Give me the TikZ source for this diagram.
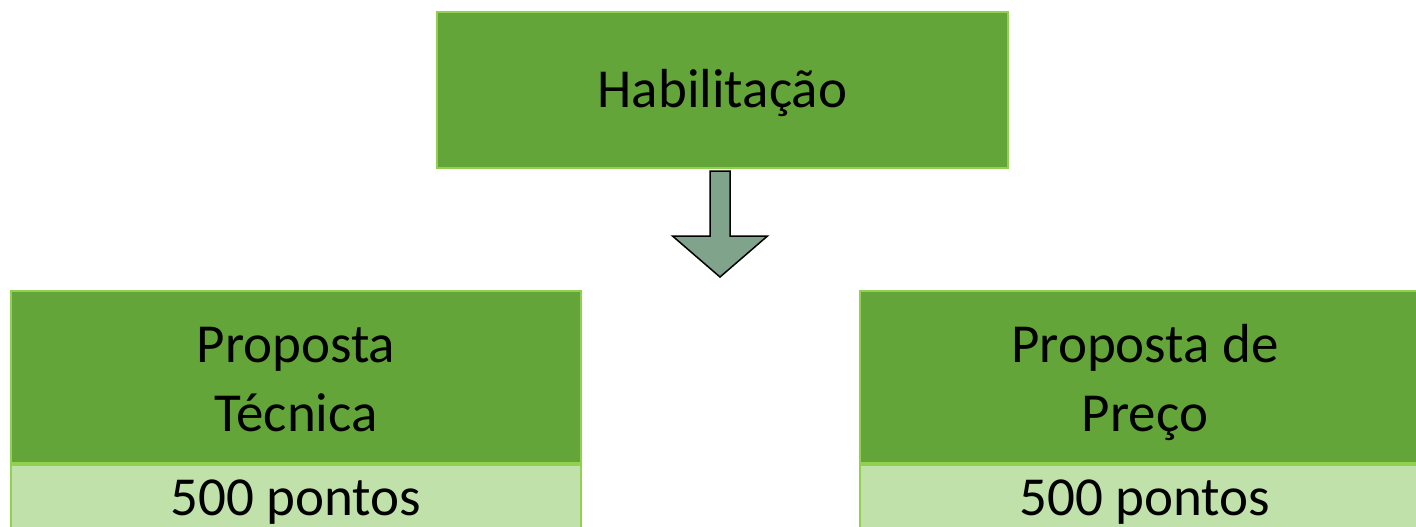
\documentclass[tikz,border=0pt]{standalone}
\usepackage{fontspec}
\setmainfont{Carlito}
\usepackage{xcolor}
\usetikzlibrary{positioning}

\definecolor{boxgreen}{HTML}{63A538}
\definecolor{boxline}{HTML}{92D050}
\definecolor{boxlight}{HTML}{C0E2AA}
\definecolor{arrowgrey}{HTML}{80A38B}

\newcommand{\topstrut}{\rule{0pt}{50pt}}
\newcommand{\botstrut}{\rule[-11pt]{0pt}{11pt}}

\tikzset{
	box/.style={draw=boxline, line width=2pt, rectangle, inner sep=0pt,
		minimum width=570pt, font=\fontsize{55}{69}\selectfont, text=black},
	darkbox/.style={box, fill=boxgreen, align=center},
	lightbox/.style={box, fill=boxlight, minimum height=100pt,
		text height=35pt, text depth=35pt},
	blockarrow/.style={draw=black, line width=1.5pt, fill=arrowgrey, line join=miter}
}

\begin{document}
\begin{tikzpicture}[x=1pt, y=-1pt]
		\useasboundingbox (0,0) rectangle (1416,527);
		
		\node[darkbox, minimum width=571pt, minimum height=156pt,
			text height=35pt, text depth=0pt](hab) at (722.5,90){Habilitação};
		
		\node[darkbox, minimum height=172pt](tec) at (296,377){\topstrut Proposta\\Técnica\botstrut};
		\node[lightbox, below=0pt of tec](tecpts){500 pontos};
		
		\node[darkbox, minimum height=172pt](prc) at (1145,377){\topstrut Proposta de\\Preço\botstrut};
		\node[lightbox, below=0pt of prc](prcpts){500 pontos};
		
		\coordinate (arrtop) at (720,171);
		\draw[blockarrow] (arrtop) ++(-10,0) -- ++(0,65) -- ++(-37.5,0) -- ++(47.5,41)
			-- ++(47.5,-41) -- ++(-37.5,0) -- ++(0,-65) -- cycle;
	\end{tikzpicture}
\end{document}
